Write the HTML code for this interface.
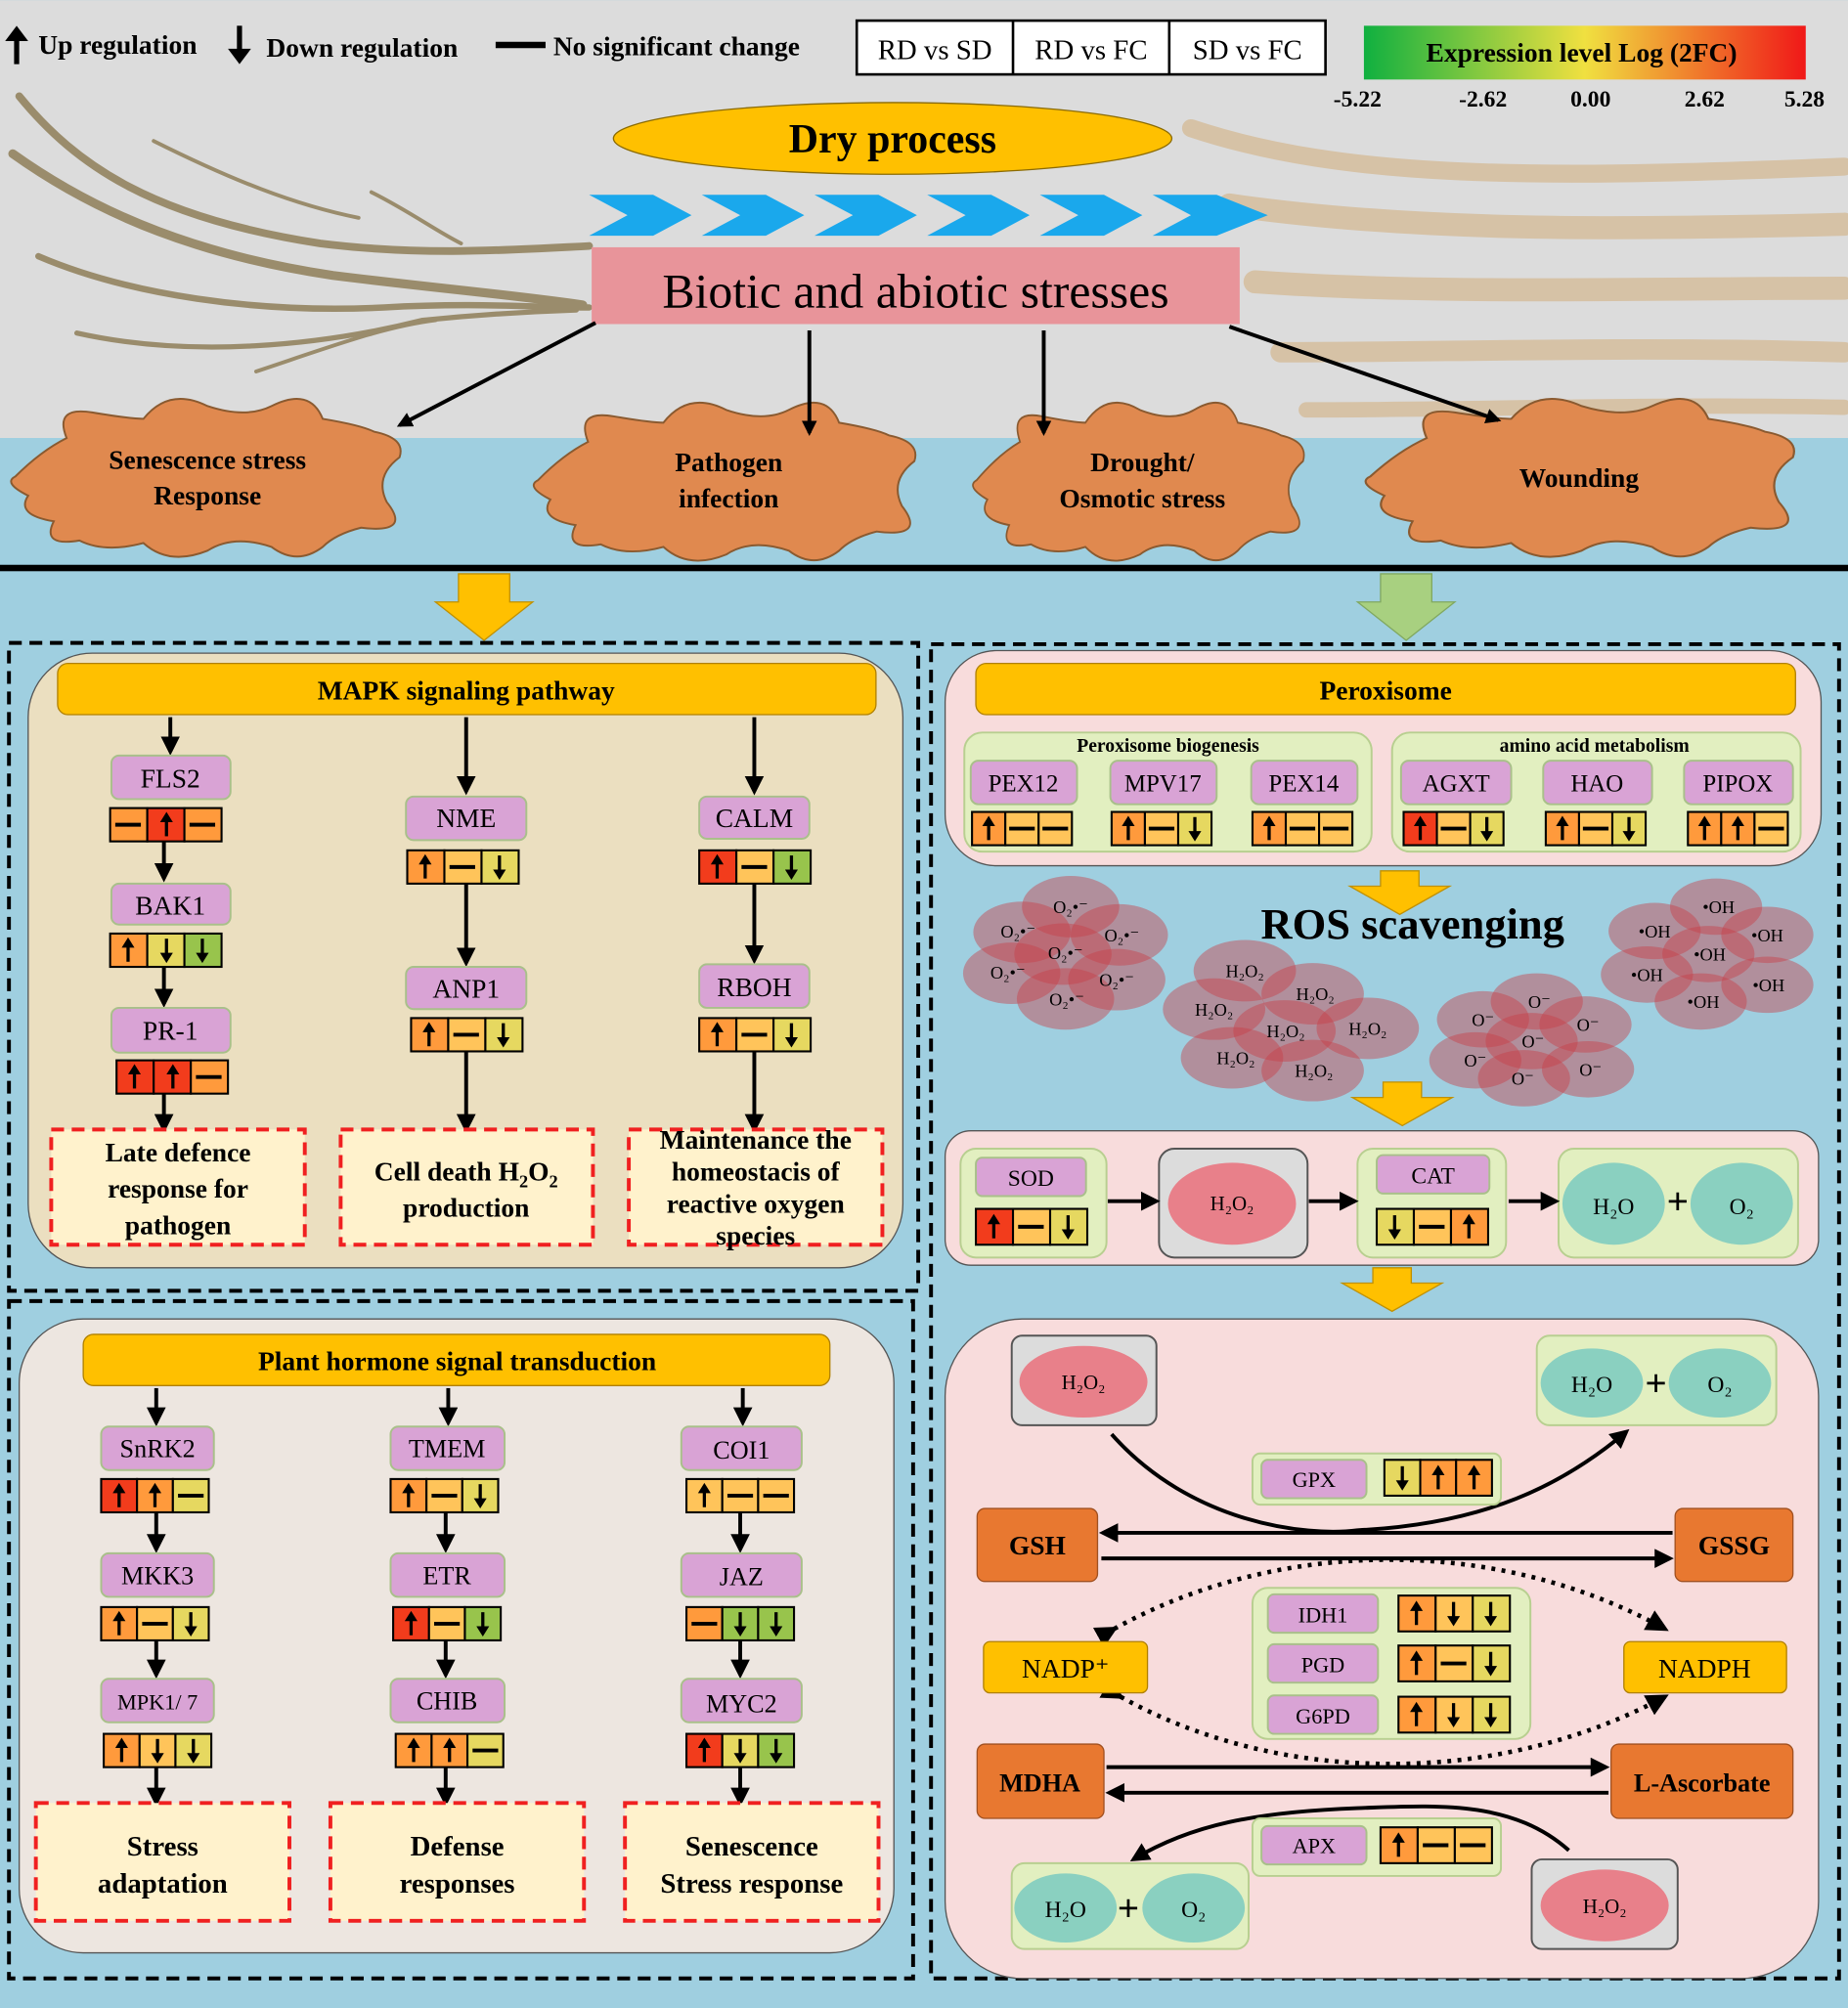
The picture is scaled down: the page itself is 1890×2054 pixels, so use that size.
<!DOCTYPE html>
<html><head><meta charset="utf-8"><style>
html,body{margin:0;padding:0;width:1890px;height:2054px;overflow:hidden;background:#9fcfe0}
svg{display:block}
text{font-family:"Liberation Serif","DejaVu Serif",serif}
.b{font-weight:bold}
.g{fill:#d9a3d5;stroke:#a9c08a;stroke-width:1.5}
.c{stroke:#000;stroke-width:1.6}
.R{fill:#f23c1c}.O{fill:#ff9a3c}.L{fill:#ffc45a}.Y{fill:#e6d860}.G{fill:#98c44c}
.ar{stroke:#000;stroke-width:3;fill:none}
.dash{fill:#fff2cc;stroke:#f02020;stroke-width:3;stroke-dasharray:10,6}
.grn{fill:#e2efc0;stroke:#b8cf90;stroke-width:1.5}
.mol{fill:#c8404a;fill-opacity:.45}
</style></head><body>
<svg width="1890" height="2054" viewBox="0 0 1443 1568" xmlns="http://www.w3.org/2000/svg">
<defs>
<marker id="m" viewBox="0 0 10 10" refX="8" refY="5" markerWidth="5" markerHeight="5" orient="auto"><path d="M0,0L10,5L0,10z" fill="#000"/></marker>
<marker id="m2" viewBox="0 0 10 10" refX="8" refY="5" markerWidth="4" markerHeight="4" orient="auto"><path d="M0,0L10,5L0,10z" fill="#000"/></marker>
<g id="au"><line x1="0" y1="9" x2="0" y2="-3" stroke="#000" stroke-width="2.5"/><path d="M-5,-2L5,-2L0,-10z"/></g>
<g id="ad"><line x1="0" y1="-9" x2="0" y2="3" stroke="#000" stroke-width="2.5"/><path d="M-5,2L5,2L0,10z"/></g>
<g id="dh"><line x1="-10" y1="0" x2="10" y2="0" stroke="#000" stroke-width="3"/></g>
<path id="blob" d="M-150,0 Q-130,-20 -110,-30 Q-120,-55 -90,-50 Q-60,-45 -50,-45 Q-30,-70 0,-55 Q30,-45 50,-55 Q80,-70 90,-45 Q120,-40 130,-35 Q155,-30 150,-15 Q130,0 140,20 Q160,45 120,40 Q100,45 90,55 Q70,70 50,55 Q20,45 0,58 Q-30,70 -50,52 Q-80,60 -100,50 Q-130,55 -120,35 Q-150,30 -140,15 Q-160,5 -150,0Z" fill="#e0894f" stroke="#8a5a30" stroke-width="1.5"/>
<linearGradient id="gr" x1="0" x2="1"><stop offset="0" stop-color="#10b040"/><stop offset=".5" stop-color="#f0e040"/><stop offset="1" stop-color="#f01818"/></linearGradient>
</defs>
<rect x="0" y="0" width="1443" height="342" fill="#dcdcdc"/>
<rect x="0" y="342" width="1443" height="1226" fill="#9fcfe0"/>
<g fill="none" stroke="#9a8c6c" stroke-linecap="round">
<path d="M15,75 C60,130 120,170 250,190 C330,200 400,195 460,192" stroke-width="6"/>
<path d="M10,120 C80,170 160,200 260,215 C340,225 400,230 455,238" stroke-width="7"/>
<path d="M30,200 C100,230 200,245 300,240 C370,236 420,240 460,240" stroke-width="5"/>
<path d="M60,260 C150,280 250,270 330,250 C380,245 420,243 450,242" stroke-width="4"/>
<path d="M120,110 C180,140 230,160 280,170" stroke-width="3"/>
<path d="M200,290 C260,270 300,255 340,250" stroke-width="3"/>
<path d="M290,150 C320,165 340,180 360,190" stroke-width="3"/>
</g>
<g fill="none" stroke="#d6c2a6" stroke-linecap="round">
<path d="M930,100 C1050,140 1200,140 1440,130" stroke-width="14"/>
<path d="M960,160 C1100,180 1250,180 1440,175" stroke-width="18"/>
<path d="M980,220 C1120,230 1280,225 1440,225" stroke-width="18"/>
<path d="M1000,275 C1130,275 1280,270 1440,275" stroke-width="16"/>
<path d="M1020,320 C1150,320 1300,315 1440,318" stroke-width="12"/>
</g>
<path d="M13,50 L13,30" stroke="#000" stroke-width="4"/><path d="M4,32L22,32L13,20z"/>
<text x="30" y="42" class="b" font-size="21">Up regulation</text>
<path d="M187,20 L187,40" stroke="#000" stroke-width="4"/><path d="M178,38L196,38L187,50z"/>
<text x="208" y="44" class="b" font-size="21">Down regulation</text>
<line x1="387" y1="35" x2="426" y2="35" stroke="#000" stroke-width="5"/>
<text x="432" y="43" class="b" font-size="21">No significant change</text>
<rect x="669" y="16" width="366" height="42" fill="#fff" stroke="#000" stroke-width="2"/>
<line x1="791" y1="16" x2="791" y2="58" stroke="#000" stroke-width="2"/><line x1="913" y1="16" x2="913" y2="58" stroke="#000" stroke-width="2"/>
<text x="730" y="46" text-anchor="middle" font-size="22">RD vs SD</text>
<text x="852" y="46" text-anchor="middle" font-size="22">RD vs FC</text>
<text x="974" y="46" text-anchor="middle" font-size="22">SD vs FC</text>
<rect x="1065" y="20" width="345" height="42" fill="url(#gr)"/>
<text x="1235" y="48" text-anchor="middle" class="b" font-size="21">Expression level Log (2FC)</text>
<g class="b" font-size="18" text-anchor="middle"><text x="1060" y="83">-5.22</text><text x="1158" y="83">-2.62</text><text x="1242" y="83">0.00</text><text x="1331" y="83">2.62</text><text x="1409" y="83">5.28</text></g>
<ellipse cx="697" cy="108" rx="218" ry="28" fill="#ffc000" stroke="#8a6a00"/>
<text x="697" y="119" text-anchor="middle" class="b" font-size="32">Dry process</text>
<g fill="#1aa8ec">
<path d="M460,152h50l30,16l-30,16h-50l30,-16z"/><path d="M548,152h50l30,16l-30,16h-50l30,-16z"/><path d="M636,152h50l30,16l-30,16h-50l30,-16z"/><path d="M724,152h50l30,16l-30,16h-50l30,-16z"/><path d="M812,152h50l30,16l-30,16h-50l30,-16z"/><path d="M900,152h50l40,16l-40,16h-50l30,-16z"/>
</g>
<rect x="462" y="193" width="506" height="60" fill="#e8949a"/>
<text x="715" y="240" text-anchor="middle" font-size="38">Biotic and abiotic stresses</text>
<use href="#blob" transform="translate(162,372)"/>
<use href="#blob" transform="translate(567,375) scale(.98,1)"/>
<use href="#blob" transform="translate(890,375) scale(.85,1)"/>
<use href="#blob" transform="translate(1235,372) scale(1.1,1)"/>
<g class="ar" stroke-width="5" marker-end="url(#m2)">
<line x1="465" y1="252" x2="312" y2="332"/><line x1="632" y1="258" x2="632" y2="338"/><line x1="815" y1="258" x2="815" y2="338"/><line x1="960" y1="255" x2="1170" y2="328"/>
</g>
<g class="b" font-size="21" text-anchor="middle">
<text x="162" y="366">Senescence stress</text><text x="162" y="394">Response</text>
<text x="569" y="368">Pathogen</text><text x="569" y="396">infection</text>
<text x="892" y="368">Drought/</text><text x="892" y="396">Osmotic stress</text>
<text x="1233" y="380">Wounding</text>
</g>
<rect x="0" y="441" width="1443" height="5" fill="#000"/>
<path d="M358,448h40v22h18l-38,30l-38,-30h18z" fill="#ffc000" stroke="#c09000"/>
<path d="M1078,448h40v22h18l-38,30l-38,-30h18z" fill="#a8d080" stroke="#80a860"/>
<g fill="none" stroke="#000" stroke-width="3" stroke-dasharray="10,6">
<rect x="7" y="502" width="710" height="506"/><rect x="7" y="1016" width="706" height="529"/><rect x="727" y="503" width="709" height="1042"/>
</g>
<rect x="22" y="510" width="683" height="480" rx="50" fill="#ebdfc0" stroke="#555"/>
<rect x="45" y="518" width="639" height="40" rx="8" fill="#ffc000" stroke="#b08000"/>
<text x="364" y="546" text-anchor="middle" class="b" font-size="21">MAPK signaling pathway</text>
<g class="ar" marker-end="url(#m)">
<line x1="133" y1="560" x2="133" y2="587"/><line x1="128" y1="657" x2="128" y2="686"/><line x1="128" y1="755" x2="128" y2="784"/><line x1="128" y1="854" x2="128" y2="882"/>
<line x1="364" y1="560" x2="364" y2="618"/><line x1="364" y1="690" x2="364" y2="752"/><line x1="364" y1="821" x2="364" y2="882"/>
<line x1="589" y1="560" x2="589" y2="618"/><line x1="589" y1="690" x2="589" y2="750"/><line x1="589" y1="821" x2="589" y2="882"/>
</g>
<g font-size="21" text-anchor="middle">
<rect class="g" x="87" y="590" width="93" height="34" rx="6"/><text x="133" y="615">FLS2</text>
<rect class="g" x="87" y="690" width="93" height="32" rx="6"/><text x="133" y="714">BAK1</text>
<rect class="g" x="87" y="787" width="93" height="35" rx="6"/><text x="133" y="812">PR-1</text>
<rect class="g" x="317" y="622" width="94" height="34" rx="6"/><text x="364" y="646">NME</text>
<rect class="g" x="317" y="755" width="94" height="33" rx="6"/><text x="364" y="779">ANP1</text>
<rect class="g" x="546" y="622" width="86" height="33" rx="6"/><text x="589" y="646">CALM</text>
<rect class="g" x="546" y="753" width="86" height="34" rx="6"/><text x="589" y="778">RBOH</text>
</g>
<g class="c">
<rect class="O" x="86" y="631" width="29" height="26"/><rect class="R" x="115" y="631" width="29" height="26"/><rect class="O" x="144" y="631" width="29" height="26"/>
<rect class="O" x="86" y="729" width="29" height="26"/><rect class="Y" x="115" y="729" width="29" height="26"/><rect class="G" x="144" y="729" width="29" height="26"/>
<rect class="R" x="91" y="828" width="29" height="26"/><rect class="R" x="120" y="828" width="29" height="26"/><rect class="O" x="149" y="828" width="29" height="26"/>
<rect class="O" x="318" y="664" width="29" height="26"/><rect class="L" x="347" y="664" width="29" height="26"/><rect class="Y" x="376" y="664" width="29" height="26"/>
<rect class="O" x="321" y="795" width="29" height="26"/><rect class="L" x="350" y="795" width="29" height="26"/><rect class="Y" x="379" y="795" width="29" height="26"/>
<rect class="R" x="546" y="664" width="29" height="26"/><rect class="L" x="575" y="664" width="29" height="26"/><rect class="G" x="604" y="664" width="29" height="26"/>
<rect class="O" x="546" y="795" width="29" height="26"/><rect class="L" x="575" y="795" width="29" height="26"/><rect class="Y" x="604" y="795" width="29" height="26"/>
</g>
<use href="#dh" x="100" y="644"/><use href="#au" x="130" y="644"/><use href="#dh" x="158" y="644"/>
<use href="#au" x="100" y="742"/><use href="#ad" x="130" y="742"/><use href="#ad" x="158" y="742"/>
<use href="#au" x="105" y="841"/><use href="#au" x="135" y="841"/><use href="#dh" x="163" y="841"/>
<use href="#au" x="332" y="677"/><use href="#dh" x="361" y="677"/><use href="#ad" x="390" y="677"/>
<use href="#au" x="335" y="808"/><use href="#dh" x="364" y="808"/><use href="#ad" x="393" y="808"/>
<use href="#au" x="560" y="677"/><use href="#dh" x="589" y="677"/><use href="#ad" x="618" y="677"/>
<use href="#au" x="560" y="808"/><use href="#dh" x="589" y="808"/><use href="#ad" x="618" y="808"/>
<rect class="dash" x="40" y="882" width="198" height="90"/><rect class="dash" x="266" y="882" width="197" height="90"/><rect class="dash" x="491" y="882" width="198" height="90"/>
<g class="b" font-size="21" text-anchor="middle">
<text x="139" y="907">Late defence</text><text x="139" y="935">response for</text><text x="139" y="964">pathogen</text>
<text x="364" y="922">Cell death H<tspan font-size="14" dy="5">2</tspan><tspan dy="-5">O</tspan><tspan font-size="14" dy="5">2</tspan></text><text x="364" y="950">production</text>
<text x="590" y="897">Maintenance the</text><text x="590" y="922">homeostacis of</text><text x="590" y="947">reactive oxygen</text><text x="590" y="972">species</text>
</g>
<rect x="15" y="1030" width="683" height="495" rx="50" fill="#ede6e0" stroke="#555"/>
<rect x="65" y="1042" width="583" height="40" rx="8" fill="#ffc000" stroke="#b08000"/>
<text x="357" y="1070" text-anchor="middle" class="b" font-size="21">Plant hormone signal transduction</text>
<g class="ar" marker-end="url(#m)">
<line x1="122" y1="1084" x2="122" y2="1111"/><line x1="122" y1="1181" x2="122" y2="1210"/><line x1="122" y1="1281" x2="122" y2="1308"/><line x1="122" y1="1380" x2="122" y2="1408"/>
<line x1="350" y1="1084" x2="350" y2="1111"/><line x1="348" y1="1181" x2="348" y2="1210"/><line x1="348" y1="1281" x2="348" y2="1308"/><line x1="348" y1="1380" x2="348" y2="1408"/>
<line x1="580" y1="1084" x2="580" y2="1111"/><line x1="578" y1="1181" x2="578" y2="1210"/><line x1="578" y1="1281" x2="578" y2="1308"/><line x1="578" y1="1380" x2="578" y2="1408"/>
</g>
<g font-size="20" text-anchor="middle">
<rect class="g" x="79" y="1114" width="88" height="34" rx="6"/><text x="123" y="1138">SnRK2</text>
<rect class="g" x="79" y="1213" width="88" height="34" rx="6"/><text x="123" y="1237">MKK3</text>
<rect class="g" x="79" y="1311" width="88" height="34" rx="6"/><text x="123" y="1335" font-size="17">MPK1/ 7</text>
<rect class="g" x="305" y="1114" width="89" height="34" rx="6"/><text x="349" y="1138">TMEM</text>
<rect class="g" x="305" y="1213" width="89" height="34" rx="6"/><text x="349" y="1237">ETR</text>
<rect class="g" x="305" y="1311" width="89" height="34" rx="6"/><text x="349" y="1335">CHIB</text>
<rect class="g" x="532" y="1114" width="94" height="34" rx="6"/><text x="579" y="1139">COI1</text>
<rect class="g" x="532" y="1213" width="94" height="34" rx="6"/><text x="579" y="1238">JAZ</text>
<rect class="g" x="532" y="1311" width="94" height="34" rx="6"/><text x="579" y="1337">MYC2</text>
</g>
<g class="c">
<rect class="R" x="79" y="1155" width="28" height="26"/><rect class="O" x="107" y="1155" width="28" height="26"/><rect class="Y" x="135" y="1155" width="28" height="26"/>
<rect class="O" x="79" y="1255" width="28" height="26"/><rect class="L" x="107" y="1255" width="28" height="26"/><rect class="Y" x="135" y="1255" width="28" height="26"/>
<rect class="O" x="81" y="1354" width="28" height="26"/><rect class="L" x="109" y="1354" width="28" height="26"/><rect class="Y" x="137" y="1354" width="28" height="26"/>
<rect class="O" x="305" y="1155" width="28" height="26"/><rect class="L" x="333" y="1155" width="28" height="26"/><rect class="Y" x="361" y="1155" width="28" height="26"/>
<rect class="R" x="307" y="1255" width="28" height="26"/><rect class="L" x="335" y="1255" width="28" height="26"/><rect class="G" x="363" y="1255" width="28" height="26"/>
<rect class="O" x="309" y="1354" width="28" height="26"/><rect class="O" x="337" y="1354" width="28" height="26"/><rect class="Y" x="365" y="1354" width="28" height="26"/>
<rect class="L" x="536" y="1155" width="28" height="26"/><rect class="L" x="564" y="1155" width="28" height="26"/><rect class="L" x="592" y="1155" width="28" height="26"/>
<rect class="O" x="536" y="1255" width="28" height="26"/><rect class="G" x="564" y="1255" width="28" height="26"/><rect class="G" x="592" y="1255" width="28" height="26"/>
<rect class="R" x="536" y="1354" width="28" height="26"/><rect class="Y" x="564" y="1354" width="28" height="26"/><rect class="G" x="592" y="1354" width="28" height="26"/>
</g>
<use href="#au" x="93" y="1168"/><use href="#au" x="121" y="1168"/><use href="#dh" x="149" y="1168"/>
<use href="#au" x="93" y="1268"/><use href="#dh" x="121" y="1268"/><use href="#ad" x="149" y="1268"/>
<use href="#au" x="95" y="1367"/><use href="#ad" x="123" y="1367"/><use href="#ad" x="151" y="1367"/>
<use href="#au" x="319" y="1168"/><use href="#dh" x="347" y="1168"/><use href="#ad" x="375" y="1168"/>
<use href="#au" x="321" y="1268"/><use href="#dh" x="349" y="1268"/><use href="#ad" x="377" y="1268"/>
<use href="#au" x="323" y="1367"/><use href="#au" x="351" y="1367"/><use href="#dh" x="379" y="1367"/>
<use href="#au" x="550" y="1168"/><use href="#dh" x="578" y="1168"/><use href="#dh" x="606" y="1168"/>
<use href="#dh" x="550" y="1268"/><use href="#ad" x="578" y="1268"/><use href="#ad" x="606" y="1268"/>
<use href="#au" x="550" y="1367"/><use href="#ad" x="578" y="1367"/><use href="#ad" x="606" y="1367"/>
<rect class="dash" x="28" y="1408" width="198" height="92"/><rect class="dash" x="258" y="1408" width="198" height="92"/><rect class="dash" x="488" y="1408" width="198" height="92"/>
<g class="b" font-size="22" text-anchor="middle">
<text x="127" y="1449">Stress</text><text x="127" y="1478">adaptation</text>
<text x="357" y="1449">Defense</text><text x="357" y="1478">responses</text>
<text x="587" y="1449">Senescence</text><text x="587" y="1478">Stress response</text>
</g>
<rect x="738" y="508" width="684" height="168" rx="40" fill="#f8dcdc" stroke="#555"/>
<rect x="762" y="518" width="640" height="40" rx="8" fill="#ffc000" stroke="#b08000"/>
<text x="1082" y="546" text-anchor="middle" class="b" font-size="21">Peroxisome</text>
<rect class="grn" x="753" y="572" width="318" height="93" rx="14"/><rect class="grn" x="1087" y="572" width="319" height="93" rx="14"/>
<text x="912" y="587" text-anchor="middle" class="b" font-size="15">Peroxisome biogenesis</text>
<text x="1245" y="587" text-anchor="middle" class="b" font-size="15">amino acid metabolism</text>
<g font-size="19" text-anchor="middle">
<rect class="g" x="758" y="594" width="83" height="34" rx="6"/><text x="799" y="618">PEX12</text>
<rect class="g" x="867" y="594" width="83" height="34" rx="6"/><text x="908" y="618">MPV17</text>
<rect class="g" x="977" y="594" width="83" height="34" rx="6"/><text x="1018" y="618">PEX14</text>
<rect class="g" x="1094" y="594" width="86" height="34" rx="6"/><text x="1137" y="618">AGXT</text>
<rect class="g" x="1205" y="594" width="85" height="34" rx="6"/><text x="1247" y="618">HAO</text>
<rect class="g" x="1315" y="594" width="85" height="34" rx="6"/><text x="1357" y="618">PIPOX</text>
</g>
<g class="c">
<rect class="O" x="759" y="634" width="26" height="26"/><rect class="L" x="785" y="634" width="26" height="26"/><rect class="L" x="811" y="634" width="26" height="26"/>
<rect class="O" x="868" y="634" width="26" height="26"/><rect class="L" x="894" y="634" width="26" height="26"/><rect class="Y" x="920" y="634" width="26" height="26"/>
<rect class="O" x="978" y="634" width="26" height="26"/><rect class="L" x="1004" y="634" width="26" height="26"/><rect class="L" x="1030" y="634" width="26" height="26"/>
<rect class="R" x="1096" y="634" width="26" height="26"/><rect class="L" x="1122" y="634" width="26" height="26"/><rect class="Y" x="1148" y="634" width="26" height="26"/>
<rect class="O" x="1207" y="634" width="26" height="26"/><rect class="L" x="1233" y="634" width="26" height="26"/><rect class="Y" x="1259" y="634" width="26" height="26"/>
<rect class="O" x="1318" y="634" width="26" height="26"/><rect class="O" x="1344" y="634" width="26" height="26"/><rect class="L" x="1370" y="634" width="26" height="26"/>
</g>
<use href="#au" x="772" y="647"/><use href="#dh" x="798" y="647"/><use href="#dh" x="824" y="647"/>
<use href="#au" x="881" y="647"/><use href="#dh" x="907" y="647"/><use href="#ad" x="933" y="647"/>
<use href="#au" x="991" y="647"/><use href="#dh" x="1017" y="647"/><use href="#dh" x="1043" y="647"/>
<use href="#au" x="1109" y="647"/><use href="#dh" x="1135" y="647"/><use href="#ad" x="1161" y="647"/>
<use href="#au" x="1220" y="647"/><use href="#dh" x="1246" y="647"/><use href="#ad" x="1272" y="647"/>
<use href="#au" x="1331" y="647"/><use href="#au" x="1357" y="647"/><use href="#dh" x="1383" y="647"/>
<path d="M1078,680h30v12h24l-39,22l-39,-22h24z" fill="#ffc000" stroke="#c09000"/>
<text x="1103" y="733" text-anchor="middle" class="b" font-size="34">ROS scavenging</text>
<g class="mol">
<ellipse cx="836" cy="708" rx="38" ry="24"/><ellipse cx="798" cy="728" rx="38" ry="24"/><ellipse cx="874" cy="730" rx="38" ry="24"/><ellipse cx="830" cy="745" rx="38" ry="24"/><ellipse cx="790" cy="760" rx="38" ry="24"/><ellipse cx="872" cy="765" rx="38" ry="24"/><ellipse cx="832" cy="780" rx="38" ry="24"/>
<ellipse cx="972" cy="758" rx="40" ry="24"/><ellipse cx="1025" cy="776" rx="40" ry="24"/><ellipse cx="948" cy="788" rx="40" ry="24"/><ellipse cx="1003" cy="805" rx="40" ry="24"/><ellipse cx="1068" cy="803" rx="40" ry="24"/><ellipse cx="962" cy="826" rx="40" ry="24"/><ellipse cx="1025" cy="836" rx="40" ry="24"/>
<ellipse cx="1200" cy="782" rx="36" ry="22"/><ellipse cx="1158" cy="796" rx="36" ry="22"/><ellipse cx="1238" cy="800" rx="36" ry="22"/><ellipse cx="1196" cy="813" rx="36" ry="22"/><ellipse cx="1152" cy="828" rx="36" ry="22"/><ellipse cx="1240" cy="835" rx="36" ry="22"/><ellipse cx="1190" cy="842" rx="36" ry="22"/>
<ellipse cx="1340" cy="708" rx="36" ry="22"/><ellipse cx="1292" cy="727" rx="36" ry="22"/><ellipse cx="1380" cy="730" rx="36" ry="22"/><ellipse cx="1334" cy="745" rx="36" ry="22"/><ellipse cx="1286" cy="761" rx="36" ry="22"/><ellipse cx="1380" cy="769" rx="36" ry="22"/><ellipse cx="1328" cy="782" rx="36" ry="22"/>
</g>
<g font-size="14" text-anchor="middle">
<text x="836" y="713">O₂•⁻</text><text x="795" y="732">O₂•⁻</text><text x="876" y="735">O₂•⁻</text><text x="832" y="749">O₂•⁻</text><text x="787" y="764">O₂•⁻</text><text x="872" y="770">O₂•⁻</text><text x="833" y="785">O₂•⁻</text>
<text x="972" y="763">H₂O₂</text><text x="1027" y="781">H₂O₂</text><text x="948" y="793">H₂O₂</text><text x="1004" y="810">H₂O₂</text><text x="1068" y="808">H₂O₂</text><text x="965" y="831">H₂O₂</text><text x="1026" y="841">H₂O₂</text>
<text x="1202" y="787">O⁻</text><text x="1158" y="801">O⁻</text><text x="1240" y="805">O⁻</text><text x="1197" y="818">O⁻</text><text x="1152" y="833">O⁻</text><text x="1242" y="840">O⁻</text><text x="1189" y="847">O⁻</text>
<text x="1342" y="713">•OH</text><text x="1292" y="732">•OH</text><text x="1380" y="735">•OH</text><text x="1335" y="750">•OH</text><text x="1286" y="766">•OH</text><text x="1381" y="774">•OH</text><text x="1330" y="787">•OH</text>
</g>
<path d="M1080,845h30v12h24l-39,22l-39,-22h24z" fill="#ffc000" stroke="#c09000"/>
<rect x="738" y="883" width="682" height="105" rx="20" fill="#f8dcdc" stroke="#555"/>
<rect class="grn" x="750" y="897" width="114" height="85" rx="12"/>
<rect class="g" x="762" y="904" width="86" height="30" rx="5"/><text x="805" y="926" text-anchor="middle" font-size="18">SOD</text>
<g class="c"><rect class="R" x="762" y="944" width="29" height="28"/><rect class="L" x="791" y="944" width="29" height="28"/><rect class="Y" x="820" y="944" width="29" height="28"/></g>
<use href="#au" x="776" y="958"/><use href="#dh" x="805" y="958"/><use href="#ad" x="834" y="958"/>
<rect x="905" y="897" width="116" height="85" rx="12" fill="#dcdcdc" stroke="#555" stroke-width="1.5"/>
<ellipse cx="962" cy="940" rx="50" ry="32" fill="#e8808a"/><text x="962" y="945" text-anchor="middle" font-size="16">H₂O₂</text>
<rect class="grn" x="1060" y="897" width="116" height="85" rx="12"/>
<rect class="g" x="1075" y="902" width="88" height="30" rx="5"/><text x="1119" y="924" text-anchor="middle" font-size="18">CAT</text>
<g class="c"><rect class="Y" x="1075" y="944" width="29" height="28"/><rect class="L" x="1104" y="944" width="29" height="28"/><rect class="O" x="1133" y="944" width="29" height="28"/></g>
<use href="#ad" x="1089" y="958"/><use href="#dh" x="1118" y="958"/><use href="#au" x="1147" y="958"/>
<rect class="grn" x="1217" y="897" width="187" height="85" rx="12"/>
<ellipse cx="1260" cy="940" rx="40" ry="32" fill="#8ad0c0"/><ellipse cx="1360" cy="940" rx="40" ry="32" fill="#8ad0c0"/>
<text x="1260" y="948" text-anchor="middle" font-size="18">H₂O</text><text x="1360" y="948" text-anchor="middle" font-size="18">O₂</text>
<text x="1310" y="948" text-anchor="middle" class="b" font-size="30">+</text>
<g class="ar" marker-end="url(#m)"><line x1="865" y1="938" x2="903" y2="938"/><line x1="1022" y1="938" x2="1058" y2="938"/><line x1="1178" y1="938" x2="1215" y2="938"/></g>
<path d="M1072,990h30v12h24l-39,22l-39,-22h24z" fill="#ffc000" stroke="#c09000"/>
<rect x="738" y="1030" width="682" height="515" rx="60" fill="#f8dcdc" stroke="#555"/>
<rect x="790" y="1043" width="113" height="70" rx="8" fill="#dcdcdc" stroke="#555" stroke-width="1.5"/>
<ellipse cx="846" cy="1079" rx="50" ry="28" fill="#e8808a"/><text x="846" y="1085" text-anchor="middle" font-size="16">H₂O₂</text>
<rect class="grn" x="1200" y="1043" width="187" height="70" rx="10"/>
<ellipse cx="1243" cy="1080" rx="40" ry="27" fill="#8ad0c0"/><ellipse cx="1343" cy="1080" rx="40" ry="27" fill="#8ad0c0"/>
<text x="1243" y="1087" text-anchor="middle" font-size="18">H₂O</text><text x="1343" y="1087" text-anchor="middle" font-size="18">O₂</text>
<text x="1293" y="1090" text-anchor="middle" class="b" font-size="30">+</text>
<path d="M868,1120 C930,1190 1020,1200 1060,1195 C1160,1190 1220,1160 1270,1118" class="ar" marker-end="url(#m)"/>
<rect class="grn" x="978" y="1135" width="194" height="40" rx="6"/>
<rect class="g" x="985" y="1140" width="82" height="30" rx="5"/><text x="1026" y="1161" text-anchor="middle" font-size="17">GPX</text>
<g class="c"><rect class="Y" x="1081" y="1140" width="28" height="28"/><rect class="O" x="1109" y="1140" width="28" height="28"/><rect class="O" x="1137" y="1140" width="28" height="28"/></g>
<use href="#ad" x="1095" y="1154"/><use href="#au" x="1123" y="1154"/><use href="#au" x="1151" y="1154"/>
<rect x="763" y="1178" width="94" height="57" rx="6" fill="#e87830" stroke="#a05020"/><text x="810" y="1214" text-anchor="middle" class="b" font-size="21">GSH</text>
<rect x="1308" y="1178" width="92" height="57" rx="6" fill="#e87830" stroke="#a05020"/><text x="1354" y="1214" text-anchor="middle" class="b" font-size="21">GSSG</text>
<g class="ar" marker-end="url(#m)"><line x1="1306" y1="1197" x2="861" y2="1197"/><line x1="860" y1="1217" x2="1304" y2="1217"/></g>
<path d="M870,1272 C1000,1200 1170,1200 1300,1272" fill="none" stroke="#000" stroke-width="3.5" stroke-dasharray="3,5" marker-start="url(#m)" marker-end="url(#m)"/>
<path d="M875,1325 C1000,1395 1170,1395 1300,1325" fill="none" stroke="#000" stroke-width="3.5" stroke-dasharray="3,5" marker-start="url(#m)" marker-end="url(#m)"/>
<rect x="768" y="1282" width="128" height="40" rx="5" fill="#ffc000" stroke="#b08000"/><text x="832" y="1310" text-anchor="middle" font-size="21">NADP⁺</text>
<rect x="1268" y="1282" width="127" height="40" rx="5" fill="#ffc000" stroke="#b08000"/><text x="1331" y="1310" text-anchor="middle" font-size="21">NADPH</text>
<rect class="grn" x="978" y="1240" width="217" height="118" rx="12"/>
<g font-size="17" text-anchor="middle">
<rect class="g" x="990" y="1245" width="86" height="30" rx="5"/><text x="1033" y="1267">IDH1</text>
<rect class="g" x="990" y="1284" width="86" height="30" rx="5"/><text x="1033" y="1306">PGD</text>
<rect class="g" x="990" y="1324" width="86" height="30" rx="5"/><text x="1033" y="1346">G6PD</text>
</g>
<g class="c">
<rect class="O" x="1092" y="1246" width="29" height="28"/><rect class="L" x="1121" y="1246" width="29" height="28"/><rect class="Y" x="1150" y="1246" width="29" height="28"/>
<rect class="O" x="1092" y="1285" width="29" height="28"/><rect class="L" x="1121" y="1285" width="29" height="28"/><rect class="Y" x="1150" y="1285" width="29" height="28"/>
<rect class="O" x="1092" y="1325" width="29" height="28"/><rect class="L" x="1121" y="1325" width="29" height="28"/><rect class="Y" x="1150" y="1325" width="29" height="28"/>
</g>
<use href="#au" x="1106" y="1260"/><use href="#ad" x="1135" y="1260"/><use href="#ad" x="1164" y="1260"/>
<use href="#au" x="1106" y="1299"/><use href="#dh" x="1135" y="1299"/><use href="#ad" x="1164" y="1299"/>
<use href="#au" x="1106" y="1339"/><use href="#ad" x="1135" y="1339"/><use href="#ad" x="1164" y="1339"/>
<rect x="763" y="1362" width="99" height="58" rx="6" fill="#e87830" stroke="#a05020"/><text x="812" y="1399" text-anchor="middle" class="b" font-size="20">MDHA</text>
<rect x="1258" y="1362" width="142" height="58" rx="6" fill="#e87830" stroke="#a05020"/><text x="1329" y="1399" text-anchor="middle" class="b" font-size="20">L-Ascorbate</text>
<g class="ar" marker-end="url(#m)"><line x1="864" y1="1380" x2="1254" y2="1380"/><line x1="1256" y1="1400" x2="866" y2="1400"/></g>
<path d="M1225,1445 C1180,1405 1120,1410 1060,1412 C980,1415 930,1425 885,1452" class="ar" marker-end="url(#m)"/>
<rect class="grn" x="978" y="1420" width="194" height="45" rx="6"/>
<rect class="g" x="985" y="1426" width="82" height="30" rx="5"/><text x="1026" y="1447" text-anchor="middle" font-size="17">APX</text>
<g class="c"><rect class="O" x="1078" y="1427" width="29" height="28"/><rect class="L" x="1107" y="1427" width="29" height="28"/><rect class="L" x="1136" y="1427" width="29" height="28"/></g>
<use href="#au" x="1092" y="1441"/><use href="#dh" x="1121" y="1441"/><use href="#dh" x="1150" y="1441"/>
<rect class="grn" x="790" y="1455" width="185" height="67" rx="10"/>
<ellipse cx="832" cy="1490" rx="40" ry="27" fill="#8ad0c0"/><ellipse cx="932" cy="1490" rx="40" ry="27" fill="#8ad0c0"/>
<text x="832" y="1497" text-anchor="middle" font-size="18">H₂O</text><text x="932" y="1497" text-anchor="middle" font-size="18">O₂</text>
<text x="881" y="1500" text-anchor="middle" class="b" font-size="30">+</text>
<rect x="1196" y="1452" width="114" height="70" rx="8" fill="#dcdcdc" stroke="#555" stroke-width="1.5"/>
<ellipse cx="1253" cy="1488" rx="50" ry="28" fill="#e8808a"/><text x="1253" y="1494" text-anchor="middle" font-size="16">H₂O₂</text>
</svg>
</body></html>
